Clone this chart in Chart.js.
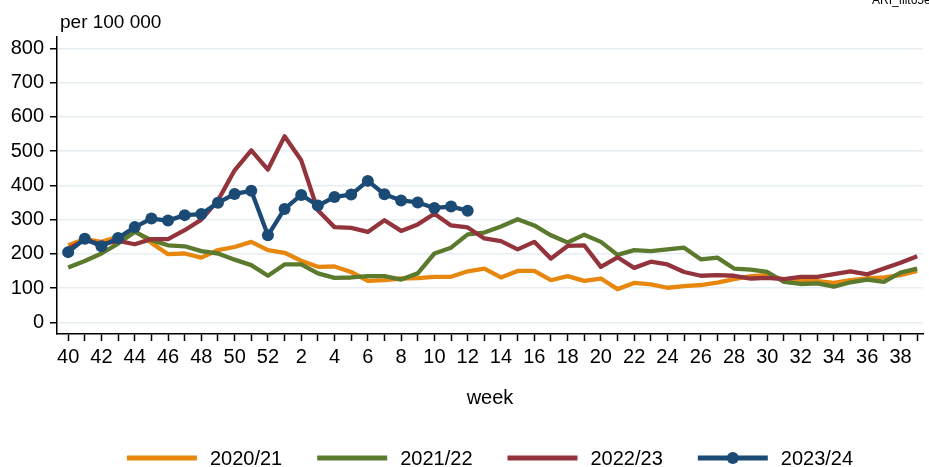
<!DOCTYPE html>
<html>
<head>
<meta charset="utf-8">
<script src="https://cdn.jsdelivr.net/npm/chart.js@4.4.1/dist/chart.umd.min.js"></script>
<style>
  html, body { margin: 0; padding: 0; background: #fff; }
  canvas { display: block; }
</style>
</head>
<body>
<canvas id="chart" width="929" height="467"></canvas>
<script>
// Season weeks: 40..52, then 1..39
const weeks = [40, 41, 42, 43, 44, 45, 46, 47, 48, 49, 50, 51, 52,
  1, 2, 3, 4, 5, 6, 7, 8, 9, 10, 11, 12, 13, 14, 15, 16, 17, 18, 19, 20,
  21, 22, 23, 24, 25, 26, 27, 28, 29, 30, 31, 32, 33, 34, 35, 36, 37, 38, 39];

// Weekly rate per 100 000, one array per season
const season2020 = [225, 243, 235, 250, 268, 232, 199, 201, 189, 211, 220, 235, 211,
  203, 180, 162, 163, 147, 121, 123, 128, 129, 133, 133, 149, 157, 131, 150, 150, 123, 135, 121, 128,
  97, 115, 111, 101, 106, 109, 116, 126, 135, 138, 125, 123, 120, 115, 123, 128, 131, 138, 150];

const season2021 = [160, 179, 201, 230, 264, 240, 225, 222, 208, 201, 183, 167, 136,
  169, 169, 143, 130, 131, 135, 135, 125, 143, 201, 218, 257, 262, 280, 301, 283, 254, 233, 256, 235,
  197, 211, 208, 213, 218, 184, 189, 157, 154, 147, 118, 112, 114, 104, 117, 125, 118, 145, 157];

const season2022 = [215, 240, 228, 238, 228, 243, 243, 269, 300, 356, 444, 502, 446,
  543, 473, 327, 278, 276, 264, 298, 267, 286, 317, 283, 277, 245, 237, 213, 235, 186, 223, 225, 162,
  190, 159, 177, 169, 147, 136, 138, 136, 128, 130, 126, 133, 133, 141, 149, 140, 157, 174, 193];

const season2023 = [205, 244, 222, 246, 278, 303, 297, 313, 316, 349, 375, 384, 254,
  331, 372, 341, 366, 373, 413, 374, 356, 350, 334, 338, 326];

const seasonNames = ['2020/21', '2021/22', '2022/23', '2023/24'];
const yTicks = [0, 100, 200, 300, 400, 500, 600, 700, 800];
const unitLabel = 'per 100 000';
const axisLabel = 'week';
const fileTag = 'ARI_filt65e';

const colors = ['#e8870e', '#5b7a2e', '#93343c', '#1b4a75'];
const FONT = '"Liberation Sans", Arial, Helvetica, sans-serif';

const toPoints = arr => arr.map((v, i) => ({ x: i, y: v }));
const seriesValues = [season2020, season2021, season2022, season2023];

const datasets = seriesValues.map((vals, k) => ({
  label: seasonNames[k],
  data: toPoints(vals),
  borderColor: colors[k],
  backgroundColor: colors[k],
  borderWidth: 4.3,
  pointRadius: k === 3 ? 6 : 0,
  pointBackgroundColor: colors[k],
  pointBorderWidth: 0,
  fill: false,
  tension: 0,
  order: 3 - k
}));

// Unit label, file tag and the legend row under the axis title
const extras = {
  id: 'extras',
  afterDraw(chart) {
    const ctx = chart.ctx;
    ctx.save();
    ctx.fillStyle = '#000';
    ctx.textAlign = 'left';
    ctx.textBaseline = 'alphabetic';
    ctx.font = '19px ' + FONT;
    ctx.fillText(unitLabel, 60, 28);
    ctx.font = '12px ' + FONT;
    ctx.fillText(fileTag, 872, 4);

    // legend
    ctx.font = '20px ' + FONT;
    ctx.textBaseline = 'middle';
    const lineW = 70, gapText = 13, gapItem = 35, y = 458;
    const items = chart.data.datasets.map(d => ({ d, tw: ctx.measureText(d.label).width }));
    const total = items.reduce((s, it) => s + lineW + gapText + it.tw, 0) + gapItem * (items.length - 1);
    const area = chart.chartArea;
    let x = (area.left + area.right) / 2 - total / 2;
    items.forEach(it => {
      ctx.strokeStyle = it.d.borderColor;
      ctx.lineWidth = 5;
      ctx.lineCap = 'butt';
      ctx.beginPath();
      ctx.moveTo(x, y);
      ctx.lineTo(x + lineW, y);
      ctx.stroke();
      if (it.d.pointRadius > 0) {
        ctx.fillStyle = it.d.borderColor;
        ctx.beginPath();
        ctx.arc(x + lineW / 2, y, it.d.pointRadius, 0, Math.PI * 2);
        ctx.fill();
      }
      ctx.fillStyle = '#000';
      ctx.fillText(it.d.label, x + lineW + gapText, y + 1);
      x += lineW + gapText + it.tw + gapItem;
    });
    ctx.restore();
  }
};

new Chart(document.getElementById('chart'), {
  type: 'line',
  data: { datasets },
  plugins: [extras],
  options: {
    responsive: false,
    animation: false,
    layout: { padding: { top: 37, right: 0, bottom: 53, left: 0 } },
    plugins: { legend: { display: false }, tooltip: { enabled: false } },
    elements: { line: { borderJoinStyle: 'round', borderCapStyle: 'butt' } },
    scales: {
      x: {
        type: 'linear',
        min: -0.67,
        max: 51.35,
        afterBuildTicks: s => { s.ticks = weeks.map((w, i) => ({ value: i })); },
        afterFit: s => { s.height = 80; },
        grid: { drawOnChartArea: false, drawTicks: true, tickLength: 7, tickWidth: 1.5, tickColor: '#000' },
        border: { color: '#000', width: 1.5 },
        ticks: {
          autoSkip: false, maxRotation: 0, minRotation: 0, padding: 4, color: '#000',
          font: { size: 20, family: FONT },
          callback: v => (v % 2 === 0 ? String(weeks[v]) : '')
        },
        title: { display: true, text: axisLabel, color: '#000', font: { size: 20, family: FONT }, padding: { top: 0, bottom: 4 } }
      },
      y: {
        min: -34,
        max: 833,
        afterBuildTicks: s => { s.ticks = yTicks.map(v => ({ value: v })); },
        afterFit: s => { s.width = 57; },
        grid: { color: '#e6eef2', lineWidth: 1.5, tickColor: '#000', tickLength: 7, tickWidth: 1.5 },
        border: { color: '#000', width: 1.5 },
        ticks: { padding: 6, color: '#000', font: { size: 20, family: FONT } }
      }
    }
  }
});
</script>
</body>
</html>
